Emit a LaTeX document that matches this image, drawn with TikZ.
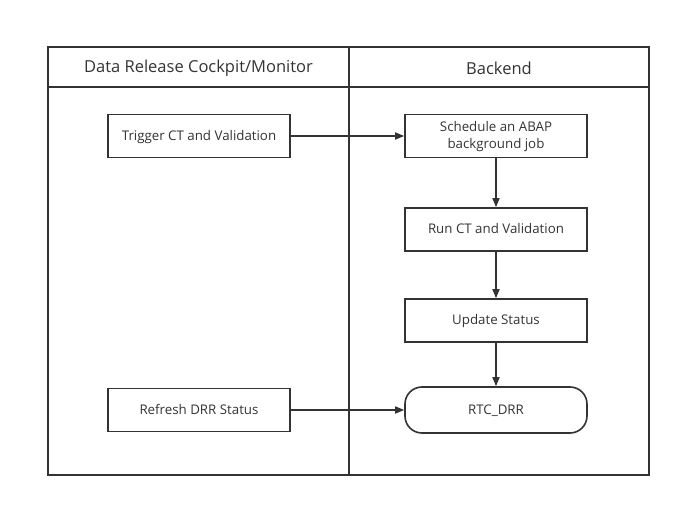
\documentclass[tikz,border=0pt]{standalone}
\usepackage{fontspec}
\setmainfont{Open Sans}
\usetikzlibrary{arrows.meta}
\definecolor{ink}{HTML}{333333}
\begin{document}
\begin{tikzpicture}[x=1pt,y=-1pt,
  lane/.style={draw=ink,line width=1.6pt},
  stepbox/.style={draw=ink,line width=1.6pt,minimum width=182pt,minimum height=43pt,inner sep=2pt,align=center,text=ink,font=\fontsize{13.3}{17}\selectfont,text depth=1.5pt},
  termbox/.style={stepbox,rounded corners=17pt,minimum height=46pt},
  head/.style={text=ink,font=\fontsize{16.5}{19}\selectfont},
  flow/.style={draw=ink,line width=1.6pt,-{Triangle[length=9pt,width=7pt]}}]
\useasboundingbox (0,0) rectangle (681,508);
\draw[lane] (48,47) rectangle (649,475);
\draw[lane] (48,87) -- (649,87);
\draw[lane] (349,47) -- (349,475);
\node[head] (h1) at (198.5,68) {Data Release Cockpit/Monitor};
\node[head] (h2) at (499,68) {Backend};
\node[stepbox] (trig) at (199,136) {Trigger CT and Validation};
\node[stepbox] (sched) at (496,136) {Schedule an ABAP\\background job};
\node[stepbox] (run) at (496,229.5) {Run CT and Validation};
\node[stepbox] (upd) at (496,320.5) {Update Status};
\node[termbox] (rtc) at (496,410) {RTC\_DRR};
\node[stepbox] (ref) at (199,410) {Refresh DRR Status};
\draw[flow] (trig) -- (sched);
\draw[flow] (sched) -- (run);
\draw[flow] (run) -- (upd);
\draw[flow] (upd) -- (rtc);
\draw[flow] (ref) -- (rtc);
\end{tikzpicture}
\end{document}
